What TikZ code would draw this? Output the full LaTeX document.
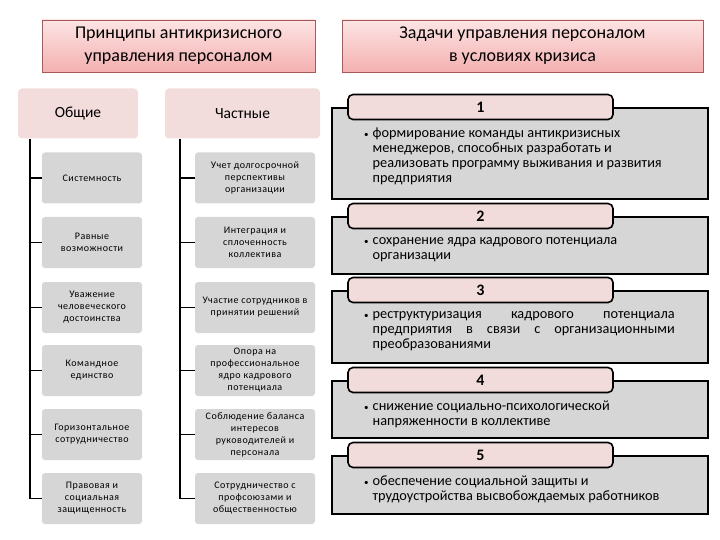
\documentclass[tikz,border=0pt]{standalone}
\usepackage{fontspec}
\setmainfont{Carlito}
\newfontfamily\boxfont[LetterSpace=5]{Carlito}
\usetikzlibrary{positioning}

\definecolor{headtop}{HTML}{FDE4E4}
\definecolor{headbot}{HTML}{F4B0B0}
\definecolor{headline}{HTML}{A65A5A}
\definecolor{catpink}{HTML}{F2DCDC}
\definecolor{prgray}{HTML}{D6D6D6}
\definecolor{taskgray}{HTML}{D6D6D6}
\definecolor{tabpink}{HTML}{F2DCDB}

\tikzset{
  head/.style={rectangle, draw=headline, line width=0.6pt, top color=headtop,
    bottom color=headbot, minimum height=52pt, align=center, inner sep=0pt,
    font=\fontsize{18}{23}\selectfont},
  cat/.style={rectangle, fill=catpink, rounded corners=4pt, minimum height=50pt,
    font=\fontsize{15.5}{18}\selectfont},
  prin/.style={rectangle, fill=prgray, rounded corners=3pt, minimum height=51pt,
    align=center, inner sep=1pt, font=\boxfont\fontsize{10}{12}\selectfont},
  conn/.style={line width=1.6pt},
  taskbox/.style={rectangle, draw, line width=1.6pt, fill=taskgray,
    minimum width=376pt, anchor=north west},
  tab/.style={rectangle, draw, line width=1.6pt, rounded corners=5pt, fill=tabpink,
    minimum width=265pt, minimum height=25pt, inner sep=0pt,
    font=\bfseries\fontsize{16}{18}\selectfont},
  tasktext/.style={anchor=north west, inner sep=0pt,
    font=\fontsize{14.3}{15}\selectfont}
}
% bullet item: bullet, then the text in a hanging block
\newcommand{\bul}[2][\raggedright]{\makebox[8.5pt][l]{\small\textbullet}\parbox[t]{302pt}{#1#2}}

\begin{document}
\begin{tikzpicture}[x=1pt, y=-1pt]
  \useasboundingbox (0,0) rectangle (720,540);

  % headers
  \node[head, minimum width=273pt] (hL) at (178.5,46) {Принципы антикризисного\\управления персоналом};
  \node[head, minimum width=361pt] (hR) at (522.5,46) {Задачи управления персоналом\\в условиях кризиса};

  % categories
  \node[cat, minimum width=120pt] (gen) at (78,113.5) {Общие};
  \node[cat, minimum width=155pt] (spec) at (242.5,113.5) {Частные};

  % general principles
  \foreach \i/\y/\txt in {1/178/{Системность},
      2/242.5/{Равные\\возможности},
      3/307.5/{Уважение\\человеческого\\достоинства},
      4/370.5/{Командное\\единство},
      5/434.5/{Горизонтальное\\сотрудничество},
      6/498.5/{Правовая и\\социальная\\защищенность}}
    \node[prin, minimum width=100pt] (g\i) at (92,\y) {\txt};

  % particular principles
  \foreach \i/\y/\txt in {1/178/{Учет долгосрочной\\перспективы\\организации},
      2/242.5/{Интеграция и\\сплоченность\\коллектива},
      3/307.5/{Участие сотрудников в\\принятии решений},
      4/370.5/{Опора на\\профессиональное\\ядро кадрового\\потенциала},
      5/434.5/{Соблюдение баланса\\интересов\\руководителей и\\персонала},
      6/498.5/{Сотрудничество с\\профсоюзами и\\общественностью}}
    \node[prin, minimum width=120pt] (p\i) at (255,\y) {\txt};

  % spines
  \coordinate (sL) at (30,0);
  \coordinate (sM) at (180,0);
  \draw[conn] (gen.south -| sL) -- (g6.west -| sL);
  \draw[conn] (spec.south -| sM) -- (p6.west -| sM);
  \foreach \i in {1,...,6} {
    \draw[conn] (g\i.west -| sL) -- (g\i.west);
    \draw[conn] (p\i.west -| sM) -- (p\i.west);
  }

  % tasks
  \node[taskbox, minimum height=91pt] (t1) at (331,107) {};
  \node[taskbox, minimum height=57pt] (t2) at (331,216) {};
  \node[taskbox, minimum height=72pt] (t3) at (331,290) {};
  \node[taskbox, minimum height=57pt] (t4) at (331,380) {};
  \node[taskbox, minimum height=58pt] (t5) at (331,455) {};

  \foreach \i in {1,...,5}
    \node[tab] (n\i) at ([xshift=149.5pt]t\i.north west) {\i};

  % task texts
  \node[tasktext] (x1) at ([xshift=33pt,yshift=-21pt]t1.north west)
    {\bul{формирование команды антикризисных\\ менеджеров, способных разработать и\\
     реализовать программу выживания и развития\\ предприятия}};
  \node[tasktext] (x2) at ([xshift=33pt,yshift=-21pt]t2.north west)
    {\bul{сохранение ядра кадрового потенциала\\ организации}};
  \node[tasktext] (x3) at ([xshift=33pt,yshift=-21pt]t3.north west)
    {\bul[]{реструктуризация кадрового потенциала\linebreak
     предприятия в связи с организационными\linebreak преобразованиями}};
  \node[tasktext] (x4) at ([xshift=33pt,yshift=-21pt]t4.north west)
    {\bul{снижение социально-психологической\\ напряженности в коллективе}};
  \node[tasktext] (x5) at ([xshift=33pt,yshift=-21pt]t5.north west)
    {\bul{обеспечение социальной защиты и\\ трудоустройства высвобождаемых работников}};

\end{tikzpicture}
\end{document}
